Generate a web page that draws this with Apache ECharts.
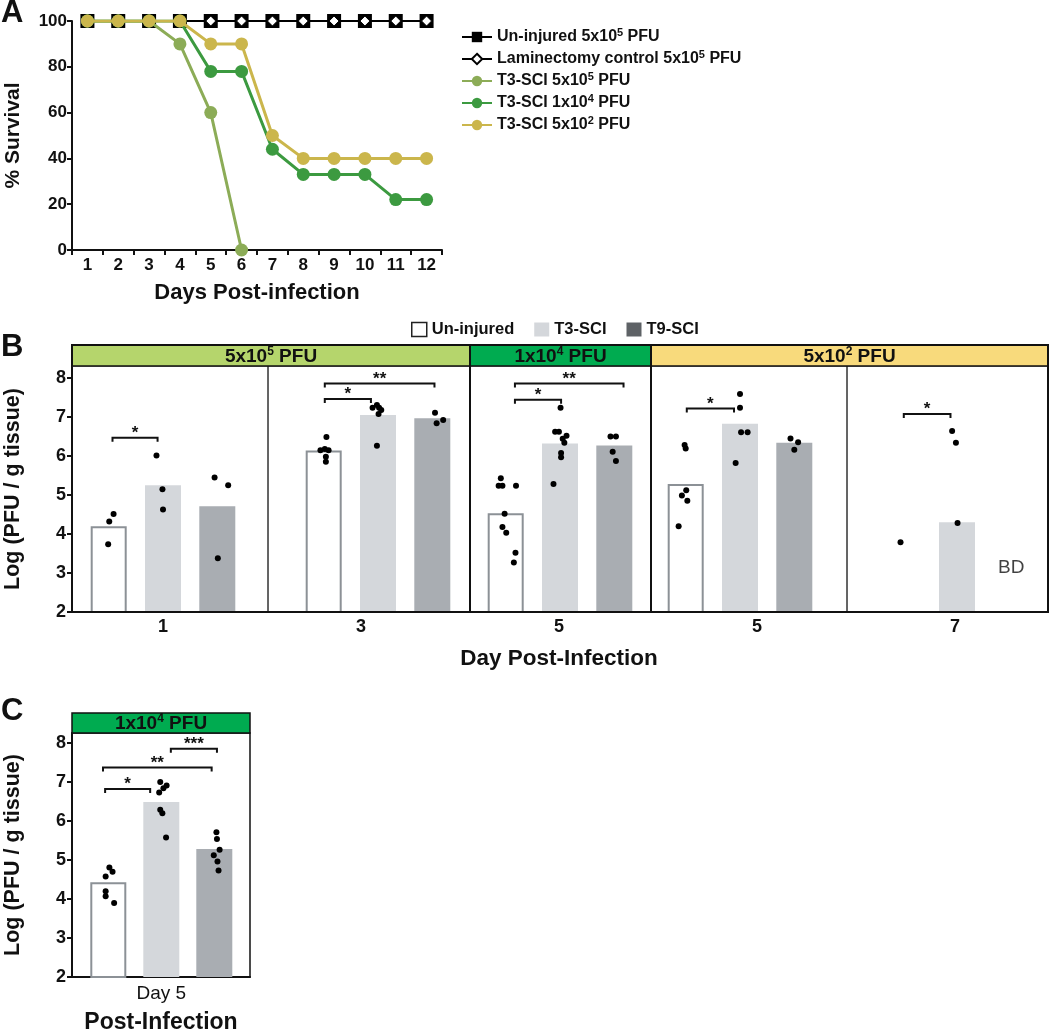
<!DOCTYPE html>
<html><head><meta charset="utf-8">
<script src="https://cdn.jsdelivr.net/npm/echarts@6/dist/echarts.min.js"></script>
<style>html,body{margin:0;padding:0;background:#fff}#c{width:1050px;height:1033px}</style>
</head><body><div id="c"></div>
<script>
const FONT = '"Liberation Sans", Arial, Helvetica, sans-serif';

// ---------------- Panel A data ----------------
const aDays = ['1','2','3','4','5','6','7','8','9','10','11','12'];
const aNames = ['Un-injured 5x10^5 PFU', 'Laminectomy control 5x10^5 PFU', 'T3-SCI 5x10^5 PFU', 'T3-SCI 1x10^4 PFU', 'T3-SCI 5x10^2 PFU'];
const aUninjured   = [100,100,100,100,100,100,100,100,100,100,100,100];
const aLaminectomy = [100,100,100,100,100,100,100,100,100,100,100,100];
const aT3High = [100,100,100,90,60,0];
const aT3Mid  = [100,100,100,100,78,78,44,33,33,33,22,22];
const aT3Low  = [100,100,100,100,90,90,50,40,40,40,40,40];

// ---------------- Panel B data ----------------
const bGroups = ['Un-injured','T3-SCI','T9-SCI'];
const bDays = ['1','3','5','5','7'];
const bDoses = ['5x10^5 PFU','1x10^4 PFU','5x10^2 PFU'];
const bDoseSections = [[0,1],[2,2],[3,4]];
const bUninjured = [4.2, 6.14, 4.53, 5.28, null];
const bT3 = [5.25, 7.05, 6.32, 6.83, 4.3];
const bT9 = [4.71, 6.97, 6.27, 6.34, null];
// individual points per section: [horizontal jitter, value]
const bPtsUninjured = [
  [[0.09,4.51],[0.01,4.32],[-0.01,3.74]],
  [[0.05,6.49],[-0.06,6.15],[0.02,6.18],[0.09,6.15],[0.04,5.98],[0.04,5.85]],
  [[-0.09,5.43],[-0.13,5.24],[-0.06,5.24],[0.19,5.24],[-0.02,4.52],[-0.06,4.18],[0.01,4.03],[0.18,3.52],[0.15,3.27]],
  [[-0.02,6.28],[0,6.19],[0.01,5.12],[-0.07,4.99],[0.03,4.85],[-0.13,4.2]],
  [[-0.04,3.79]]
];
const bPtsT3 = [
  [[-0.12,6.01],[-0.01,5.15],[0,4.63]],
  [[-0.1,7.24],[-0.02,7.31],[0.02,7.24],[0.06,7.18],[0.01,7.08],[-0.02,6.26]],
  [[0.01,7.24],[-0.09,6.62],[-0.02,6.62],[0.12,6.52],[0.05,6.44],[0.08,6.34],[0.02,6.08],[0.02,5.97],[-0.12,5.28]],
  [[0,7.59],[0,7.24],[0.02,6.61],[0.14,6.61],[-0.08,5.82]],
  [[-0.09,6.64],[-0.02,6.34],[0.01,4.28]]
];
const bPtsT9 = [
  [[-0.05,5.45],[0.2,5.25],[0.01,3.38]],
  [[0.05,7.11],[0.08,6.84],[0.2,6.92]],
  [[-0.07,6.5],[0.03,6.5],[-0.03,6.11],[0.03,5.87]],
  [[-0.07,6.45],[0.07,6.35],[0,6.16]],
  []
];
// significance brackets: [section, from, to, level, stars]
const bBrackets = [
  [0, 0.07, 0.9, 6.47, '*'],
  [1, 0.02, 0.87, 7.46, '*'],
  [1, 0.02, 2.04, 7.86, '**'],
  [2, 0.17, 1.02, 7.44, '*'],
  [2, 0.17, 2.17, 7.86, '**'],
  [3, 0.02, 0.89, 7.22, '*'],
  [4, 0.02, 0.88, 7.08, '*']
];
const bNotes = [[4, 2, 3.13, 'BD']];
const logTicks = [2,3,4,5,6,7,8];

// ---------------- Panel C data ----------------
const cCategory = 'Day 5';
const cDose = '1x10^4 PFU';
const cValues = [4.43, 6.49, 5.28];
const cPts = [
  [[0.02,4.81],[-0.05,4.58],[0.08,4.7],[-0.05,4.2],[-0.05,4.07],[0.11,3.9]],
  [[-0.02,7.0],[0.1,6.91],[0.04,6.84],[-0.04,6.73],[-0.02,6.29],[0.02,6.2],[0.09,5.58]],
  [[0.04,5.71],[0.05,5.54],[0.1,5.26],[-0.01,5.12],[0.06,4.96],[0.08,4.73]]
];
const cBrackets = [
  [-0.06, 0.79, 6.82, '*'],
  [-0.1, 1.95, 7.37, '**'],
  [1.18, 2.05, 7.85, '***']
];

// ---------------- Layout & style ----------------
const LA = {left:72, top:21, width:370, height:229};
const LB = {headerTop:345, top:366, bottom:612, y8:378, edges:[72,268,470,651,847,1048], mids:[163,378,560,740,957], step:54.3};
const LC = {left:72, right:250, headerTop:713, top:733, bottom:977, y8:743, mid:161.3, step:53};
const bYMax = 2 + 6*(LB.bottom-LB.top)/(LB.bottom-LB.y8);
const cYMax = 2 + 6*(LC.bottom-LC.top)/(LC.bottom-LC.y8);
const INK = '#111';
const aColors = ['#000', '#000', '#8cac57', '#3c9a40', '#cbb64c'];
const barStyles = [{color:'#fff', borderColor:'#8c9196', borderWidth:2}, {color:'#d4d7db'}, {color:'#a9adb2'}];
const legendSwatch = ['#fff', '#d4d7db', '#5e6266'];
const headerColors = ['#b5d56c', '#00ab50', '#f8da7c'];
const supRich = {s:{fontSize:11, fontWeight:'bold', fontFamily:FONT, color:INK, verticalAlign:'top', lineHeight:10}};
const supRichBig = {s:{fontSize:12, fontWeight:'bold', fontFamily:FONT, color:INK, verticalAlign:'top', lineHeight:11}};
function sup(s){ return s.replace(/\^(\d)/g, '{s|$1}'); }
function bold(size, extra){ return Object.assign({fontFamily:FONT, fontWeight:'bold', fontSize:size, color:INK}, extra||{}); }

const grids = [], xAxes = [], yAxes = [], series = [], graphics = [];

// ---------- Panel A ----------
grids.push({left:LA.left, top:LA.top, width:LA.width, height:LA.height, outerBoundsMode:'none'});
xAxes.push({type:'category', gridIndex:0, data:aDays, boundaryGap:true,
  axisLine:{lineStyle:{color:INK, width:2}}, axisTick:{show:true, length:5, lineStyle:{color:INK, width:2}},
  axisLabel:bold(17,{margin:7}), name:'Days Post-infection', nameLocation:'middle', nameGap:32, nameTextStyle:bold(22)});
yAxes.push({type:'value', gridIndex:0, min:0, max:100, interval:20,
  axisLine:{show:true, onZero:false, lineStyle:{color:INK, width:2}}, axisTick:{show:true, length:5, lineStyle:{color:INK, width:2}},
  splitLine:{show:false}, axisLabel:bold(17,{margin:5}), name:'% Survival', nameLocation:'middle', nameGap:48, nameTextStyle:bold(21)});
const aData = [aUninjured, aLaminectomy, aT3High, aT3Mid, aT3Low];
aData.forEach((d, k) => {
  const s = {type:'line', name:aNames[k], xAxisIndex:0, yAxisIndex:0, data:d, showAllSymbol:true, z:2+k,
    lineStyle:{color:aColors[k], width:k<2?2:3}, itemStyle:{color:aColors[k]}, symbol:'circle', symbolSize:13};
  if (k===0) { s.symbol='rect'; s.symbolSize=14; }
  if (k===1) { s.symbol='diamond'; s.symbolSize=10; s.itemStyle={color:'#fff', borderColor:'#000', borderWidth:1}; }
  series.push(s);
});

// ---------- Panel B ----------
const bVals = [bUninjured, bT3, bT9];
const bPts = [bPtsUninjured, bPtsT3, bPtsT9];
function bracketSeries(list, gi){
  return {type:'custom', xAxisIndex:gi, yAxisIndex:gi, clip:false, z:6, silent:true,
    data:list.map(b => [b[0], b[1], b[2]]), encode:{x:[0,1], y:2},
    renderItem:(params, api) => {
      const lab = list[params.dataIndex][3];
      const p1 = api.coord([api.value(0), api.value(2)]);
      const p2 = api.coord([api.value(1), api.value(2)]);
      return {type:'group', children:[
        {type:'polyline', shape:{points:[[p1[0],p1[1]+4],[p1[0],p1[1]],[p2[0],p2[1]],[p2[0],p2[1]+4]]},
         style:{stroke:INK, lineWidth:2, fill:'none'}},
        {type:'text', x:(p1[0]+p2[0])/2, y:p1[1]+4,
         style:{text:lab, font:'bold 17px '+FONT, fill:INK, textAlign:'center', textVerticalAlign:'bottom'}}
      ]};
    }};
}
const dotStyle = {color:'#000', opacity:1};
for (let i=0; i<5; i++){
  const g = grids.length;
  const L = LB.edges[i], R = LB.edges[i+1], M = LB.mids[i];
  grids.push({left:L, top:LB.top, width:R-L, height:LB.bottom-LB.top, show:true, borderColor:'#333', borderWidth:1, outerBoundsMode:'none'});
  xAxes.push({type:'value', gridIndex:g, min:1-(M-L)/LB.step, max:1+(R-M)/LB.step, show:false});
  if (i===0) {
    yAxes.push({type:'value', gridIndex:g, min:2, max:bYMax,
      axisLine:{show:true, onZero:false, lineStyle:{color:INK, width:2}},
      axisTick:{show:true, length:5, customValues:logTicks, lineStyle:{color:INK, width:2}},
      axisLabel:bold(18,{margin:6, customValues:logTicks}), splitLine:{show:false},
      name:'Log (PFU / g tissue)', nameLocation:'middle', nameGap:48, nameTextStyle:bold(21.5)});
  } else {
    yAxes.push({type:'value', gridIndex:g, min:2, max:bYMax, show:false, splitLine:{show:false}});
  }
  bGroups.forEach((name, k) => {
    const v = bVals[k][i];
    series.push({type:'bar', name, xAxisIndex:g, yAxisIndex:g, barWidth:36, barGap:'-100%', z:2,
      data: v==null ? [] : [[k, v]], itemStyle:barStyles[k]});
  });
  const pts = [];
  bPts.forEach((arr, k) => (arr[i]||[]).forEach(p => pts.push([k+p[0], p[1]])));
  series.push({type:'scatter', name:'points', xAxisIndex:g, yAxisIndex:g, data:pts, symbolSize:6, itemStyle:dotStyle, z:5, silent:true});
  series.push(bracketSeries(bBrackets.filter(b => b[0]===i).map(b => b.slice(1)), g));
  const notes = bNotes.filter(n => n[0]===i);
  if (notes.length) {
    series.push({type:'scatter', name:'notes', xAxisIndex:g, yAxisIndex:g, symbolSize:1, itemStyle:{color:'rgba(0,0,0,0)'},
      data:notes.map(n => ({value:[n[1], n[2]], label:{formatter:n[3]}})),
      label:{show:true, position:'inside', fontFamily:FONT, fontSize:19, color:INK}, silent:true});
  }
}
// day labels under panel B
{
  const g = grids.length;
  grids.push({left:LB.mids[0]-99, width:990, top:LB.top, height:LB.bottom-LB.top, outerBoundsMode:'none'});
  xAxes.push({type:'category', gridIndex:g, data:bDays, axisLine:{show:false}, axisTick:{show:false},
    axisLabel:bold(18,{margin:6}), name:'Day Post-Infection', nameLocation:'middle', nameGap:35, nameTextStyle:bold(22.5)});
  yAxes.push({type:'value', gridIndex:g, show:false, splitLine:{show:false}});
}

// ---------- Panel C ----------
{
  const g = grids.length;
  grids.push({left:LC.left, top:LC.top, width:LC.right-LC.left, height:LC.bottom-LC.top, show:true, borderColor:INK, borderWidth:1.5, outerBoundsMode:'none'});
  xAxes.push({type:'value', gridIndex:g, min:1-(LC.mid-LC.left)/LC.step, max:1+(LC.right-LC.mid)/LC.step,
    axisLine:{show:true, onZero:false, lineStyle:{color:INK, width:2}}, axisTick:{show:false}, splitLine:{show:false},
    axisLabel:{customValues:[1], formatter:() => cCategory, fontFamily:FONT, fontSize:19, color:INK, margin:7},
    name:'Post-Infection', nameLocation:'middle', nameGap:34, nameTextStyle:bold(23)});
  yAxes.push({type:'value', gridIndex:g, min:2, max:cYMax,
    axisLine:{show:true, onZero:false, lineStyle:{color:INK, width:2}},
    axisTick:{show:true, length:5, customValues:logTicks, lineStyle:{color:INK, width:2}},
    axisLabel:bold(18,{margin:6, customValues:logTicks}), splitLine:{show:false},
    name:'Log (PFU / g tissue)', nameLocation:'middle', nameGap:48, nameTextStyle:bold(21.5)});
  bGroups.forEach((name, k) => {
    series.push({type:'bar', name, xAxisIndex:g, yAxisIndex:g, barWidth:36, barGap:'-100%', z:2,
      data:[[k, cValues[k]]], itemStyle:barStyles[k]});
  });
  const pts = [];
  cPts.forEach((arr, k) => arr.forEach(p => pts.push([k+p[0], p[1]])));
  series.push({type:'scatter', name:'points', xAxisIndex:g, yAxisIndex:g, data:pts, symbolSize:6, itemStyle:dotStyle, z:5, silent:true});
  series.push(bracketSeries(cBrackets, g));
}

// ---------- Decorations ----------
[['A', 13], ['B', 347], ['C', 711]].forEach(([t, y]) => graphics.push({type:'text', x:1, y, z:100,
  style:{text:t, font:'bold 31px '+FONT, fill:INK, textAlign:'left', textVerticalAlign:'middle'}}));
bDoses.forEach((d, j) => {
  const x0 = LB.edges[bDoseSections[j][0]], x1 = LB.edges[bDoseSections[j][1]+1];
  graphics.push({type:'rect', z:100, shape:{x:x0, y:LB.headerTop, width:x1-x0, height:LB.top-LB.headerTop},
    style:{fill:headerColors[j], stroke:INK, lineWidth:1.5}});
  graphics.push({type:'text', z:101, x:(x0+x1)/2, y:(LB.headerTop+LB.top)/2+1,
    style:{text:sup(d), rich:supRichBig, font:'bold 19px '+FONT, lineHeight:22, fill:INK, textAlign:'center', textVerticalAlign:'middle'}});
  if (j>0) graphics.push({type:'line', z:100, shape:{x1:x0, y1:LB.headerTop, x2:x0, y2:LB.bottom}, style:{stroke:INK, lineWidth:2}});
});
graphics.push({type:'rect', z:100, shape:{x:LB.edges[0], y:LB.headerTop, width:LB.edges[5]-LB.edges[0], height:LB.bottom-LB.headerTop},
  style:{fill:'none', stroke:INK, lineWidth:2}});
graphics.push({type:'rect', z:100, shape:{x:LC.left, y:LC.headerTop, width:LC.right-LC.left, height:LC.top-LC.headerTop},
  style:{fill:headerColors[1], stroke:INK, lineWidth:1.5}});
graphics.push({type:'text', z:101, x:(LC.left+LC.right)/2, y:(LC.headerTop+LC.top)/2+1,
  style:{text:sup(cDose), rich:supRichBig, font:'bold 19px '+FONT, lineHeight:22, fill:INK, textAlign:'center', textVerticalAlign:'middle'}});

const option = {
  animation:false,
  textStyle:{fontFamily:FONT},
  grid:grids, xAxis:xAxes, yAxis:yAxes, series,
  legend:[
    {data:aNames, orient:'vertical', left:456, top:22, itemWidth:30, itemHeight:13, itemGap:2,
     formatter:sup, textStyle:bold(16, {lineHeight:20, rich:supRich}), selectedMode:false},
    {data:bGroups.map((n, k) => ({name:n, icon:'rect', itemStyle: k===0 ? {color:'#fff', borderColor:'#222', borderWidth:1.5} : {color:legendSwatch[k], borderWidth:0}})),
     left:406, top:316, itemWidth:15, itemHeight:14, itemGap:20, textStyle:bold(16.5), selectedMode:false}
  ],
  graphic:{elements:graphics}
};
const chart = echarts.init(document.getElementById('c'));
chart.setOption(option);
</script>
</body></html>
